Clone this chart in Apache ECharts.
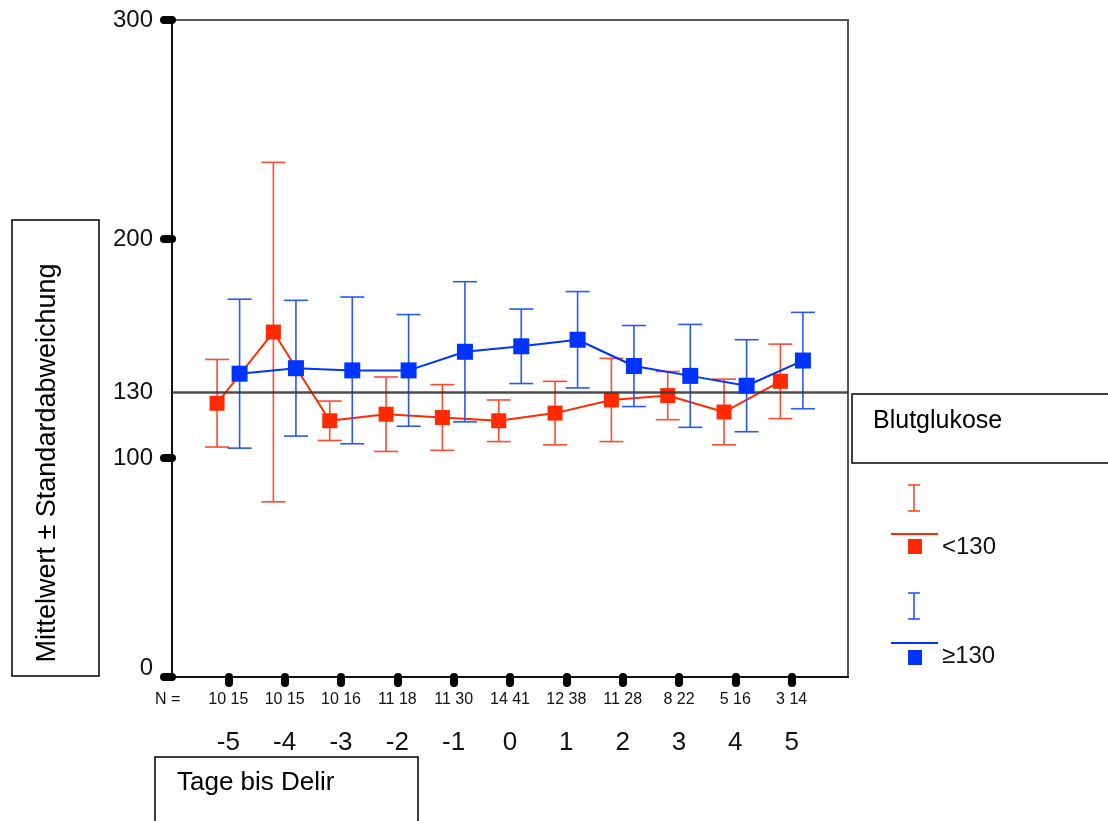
<!DOCTYPE html>
<html>
<head>
<meta charset="utf-8">
<script src="https://cdn.jsdelivr.net/npm/echarts@6/dist/echarts.min.js"></script>
<style>
  html, body { margin: 0; padding: 0; background: #fff; }
  #chart { width: 1108px; height: 821px; }
</style>
</head>
<body>
<div id="chart"></div>
<script>
// Tage bis Delir
const days = [-5, -4, -3, -2, -1, 0, 1, 2, 3, 4, 5];
// Blutglukose < 130
const meanLow = [125, 157.5, 117, 120, 118.5, 117, 120.5, 126.5, 128.5, 121, 135];
const sdLow = [20, 77.5, 9, 17, 15, 9.5, 14.5, 19, 11, 15, 17];
const nLow = [10, 10, 10, 11, 11, 14, 12, 11, 8, 5, 3];
// Blutglukose >= 130
const meanHigh = [138.5, 141, 140, 140, 148.5, 151, 154, 142, 137.5, 133, 144.5];
const sdHigh = [34, 31, 33.5, 25.5, 32, 17, 22, 18.5, 23.5, 21, 22];
const nHigh = [15, 15, 16, 18, 30, 41, 38, 28, 22, 16, 14];
const yTicks = [0, 100, 200, 300];
const yLabels = [0, 100, 130, 200, 300];
const refValue = 130;

const RED = "#ff2a00";
const RED_BAR = "#ff4a2e";
const BLUE = "#0033ff";
const BLUE_BAR = "#2856ff";
const OFFSET = 0.2;
const FONT = "Liberation Sans, Arial, sans-serif";
const NARROW = "Liberation Sans Narrow, Arial Narrow, Liberation Sans, sans-serif";

const chart = echarts.init(document.getElementById("chart"));

const errData = (mean, sd, dx) =>
  days.map((d, i) => [d + dx, mean[i] - sd[i], mean[i] + sd[i]]);
const lineData = (mean, dx) => days.map((d, i) => [d + dx, mean[i]]);

const errorBar = (color) => (params, api) => {
  const top = api.coord([api.value(0), api.value(2)]);
  const bot = api.coord([api.value(0), api.value(1)]);
  const hw = 12;
  const style = { stroke: color, lineWidth: 1.6 };
  return {
    type: "group",
    children: [
      { type: "line", shape: { x1: top[0], y1: top[1], x2: bot[0], y2: bot[1] }, style },
      { type: "line", shape: { x1: top[0] - hw, y1: top[1], x2: top[0] + hw, y2: top[1] }, style },
      { type: "line", shape: { x1: bot[0] - hw, y1: bot[1], x2: bot[0] + hw, y2: bot[1] }, style },
    ],
  };
};

const option = {
  animation: false,
  grid: {
    left: 172,
    top: 20,
    right: 260,
    bottom: 144,
    show: true,
    borderColor: "#555",
    borderWidth: 2,
  },
  xAxis: {
    type: "value",
    min: -6,
    max: 6,
    interval: 1,
    splitLine: { show: false },
    axisLine: { onZero: false, lineStyle: { color: "#111", width: 2 } },
    axisTick: {
      customValues: days,
      length: 6,
      lineStyle: { color: "#000", width: 8, cap: "round" },
    },
    axisLabel: {
      customValues: days,
      margin: 14,
      color: "#111",
      formatter: (v) => {
        const i = days.indexOf(v);
        if (i < 0) return "";
        return "{n|" + nLow[i] + " " + nHigh[i] + "}\n{d|" + v + "}";
      },
      rich: {
        n: { fontSize: 16, fontFamily: NARROW, lineHeight: 18, color: "#111" },
        d: { fontSize: 26, fontFamily: NARROW, lineHeight: 68, color: "#111" },
      },
    },
  },
  yAxis: {
    type: "value",
    min: 0,
    max: 300,
    interval: 100,
    splitLine: { show: false },
    axisLine: { show: true, onZero: false, lineStyle: { color: "#111", width: 2 } },
    axisTick: {
      show: true,
      customValues: yTicks,
      length: 8,
      lineStyle: { color: "#000", width: 8, cap: "round" },
    },
    axisLabel: {
      customValues: yLabels,
      margin: 19,
      fontSize: 24,
      fontFamily: FONT,
      color: "#111",
      formatter: (v) => (v === 0 ? "{z|0}" : String(v)),
      rich: {
        z: { fontSize: 24, fontFamily: FONT, color: "#111", padding: [0, 0, 18, 0] },
      },
    },
  },
  series: [
    {
      type: "custom",
      name: "<130 SD",
      renderItem: errorBar(RED_BAR),
      data: errData(meanLow, sdLow, -OFFSET),
      z: 2,
    },
    {
      type: "line",
      name: "<130",
      data: lineData(meanLow, -OFFSET),
      symbol: "rect",
      symbolSize: 15,
      lineStyle: { color: RED, width: 2 },
      itemStyle: { color: RED },
      z: 3,
      markLine: {
        silent: true,
        symbol: "none",
        label: { show: false },
        lineStyle: { color: "#3a3a3a", width: 2.5, type: "solid", opacity: 0.9 },
        data: [{ yAxis: refValue }],
      },
    },
    {
      type: "custom",
      name: "≥130 SD",
      renderItem: errorBar(BLUE_BAR),
      data: errData(meanHigh, sdHigh, OFFSET),
      z: 4,
    },
    {
      type: "line",
      name: "≥130",
      data: lineData(meanHigh, OFFSET),
      symbol: "rect",
      symbolSize: 16,
      lineStyle: { color: BLUE, width: 2 },
      itemStyle: { color: BLUE },
      z: 5,
    },
  ],
  graphic: [
    // y axis title box
    { type: "rect", shape: { x: 12, y: 220, width: 87, height: 456 }, style: { fill: "#fff", stroke: "#000", lineWidth: 1.5 } },
    {
      type: "text",
      x: 48,
      y: 463,
      rotation: Math.PI / 2,
      style: { text: "Mittelwert ± Standardabweichung", font: "27px " + FONT, fill: "#000", align: "center", verticalAlign: "middle" },
    },
    // x axis title box
    { type: "rect", shape: { x: 155, y: 757, width: 263, height: 72 }, style: { fill: "#fff", stroke: "#000", lineWidth: 1.5 } },
    { type: "text", x: 177, y: 783, style: { text: "Tage bis Delir", font: "26px " + FONT, fill: "#000", verticalAlign: "middle" } },
    { type: "text", x: 155, y: 700, style: { text: "N =", font: "16px " + NARROW, fill: "#111", verticalAlign: "middle" } },
    // legend
    { type: "rect", shape: { x: 852, y: 394, width: 270, height: 69 }, style: { fill: "#fff", stroke: "#000", lineWidth: 1.5 } },
    { type: "text", x: 873, y: 421, style: { text: "Blutglukose", font: "25px " + FONT, fill: "#000", verticalAlign: "middle" } },
    { type: "line", shape: { x1: 914, y1: 485, x2: 914, y2: 511 }, style: { stroke: RED_BAR, lineWidth: 1.6 } },
    { type: "line", shape: { x1: 908, y1: 485, x2: 920, y2: 485 }, style: { stroke: RED_BAR, lineWidth: 1.6 } },
    { type: "line", shape: { x1: 908, y1: 511, x2: 920, y2: 511 }, style: { stroke: RED_BAR, lineWidth: 1.6 } },
    { type: "line", shape: { x1: 891, y1: 534, x2: 938, y2: 534 }, style: { stroke: RED, lineWidth: 2 } },
    { type: "rect", shape: { x: 908, y: 539, width: 14, height: 15 }, style: { fill: RED } },
    { type: "text", x: 942, y: 547, style: { text: "<130", font: "24px " + FONT, fill: "#111", verticalAlign: "middle" } },
    { type: "line", shape: { x1: 914, y1: 593, x2: 914, y2: 619 }, style: { stroke: BLUE_BAR, lineWidth: 1.6 } },
    { type: "line", shape: { x1: 908, y1: 593, x2: 920, y2: 593 }, style: { stroke: BLUE_BAR, lineWidth: 1.6 } },
    { type: "line", shape: { x1: 908, y1: 619, x2: 920, y2: 619 }, style: { stroke: BLUE_BAR, lineWidth: 1.6 } },
    { type: "line", shape: { x1: 891, y1: 643, x2: 938, y2: 643 }, style: { stroke: BLUE, lineWidth: 2 } },
    { type: "rect", shape: { x: 908, y: 650, width: 14, height: 15 }, style: { fill: BLUE } },
    { type: "text", x: 942, y: 656, style: { text: "≥130", font: "24px " + FONT, fill: "#111", verticalAlign: "middle" } },
  ],
};

chart.setOption(option);
window.addEventListener("resize", () => chart.resize());
</script>
</body>
</html>
